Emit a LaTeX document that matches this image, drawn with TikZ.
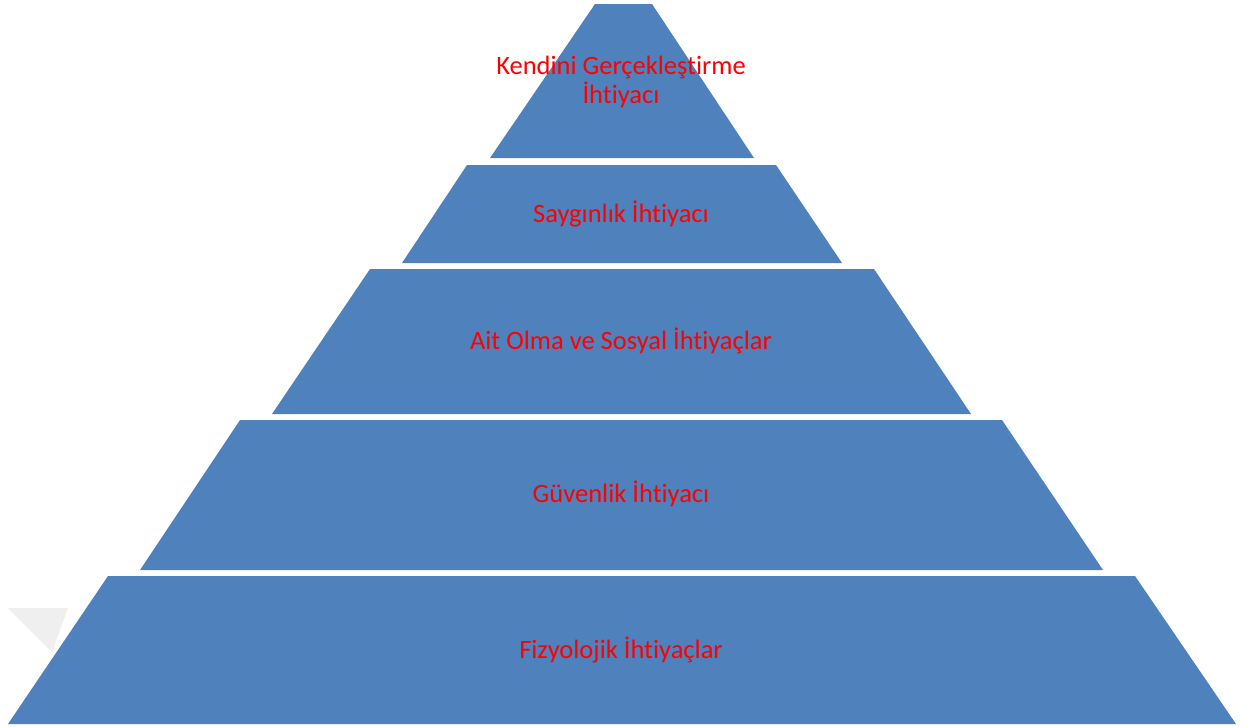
\documentclass[tikz,border=0pt]{standalone}
\usepackage{fontspec}
\setmainfont[Ligatures={NoCommon}]{Carlito}
\definecolor{pyrblue}{HTML}{4F81BD}
\definecolor{faintgrey}{HTML}{EFEFEF}
\begin{document}
\begin{tikzpicture}[x=1pt,y=-1pt,
  level/.style={fill=pyrblue,draw=none},
  lbl/.style={text=red,font=\fontsize{26.5}{29}\selectfont,align=center,inner sep=0pt}]
\useasboundingbox (0,0) rectangle (1250,728);
\fill[faintgrey] (8,608) -- (68,608) -- (52,652) -- cycle;
\path[level] (595,4) -- (652,4) -- (754,158) -- (490,158) -- cycle;
\path[level] (467,165) -- (776,165) -- (842,263) -- (402,263) -- cycle;
\path[level] (370,269) -- (874,269) -- (971,414) -- (272,414) -- cycle;
\path[level] (240,420) -- (1002,420) -- (1103,570) -- (140,570) -- cycle;
\path[level] (108,576) -- (1135,576) -- (1236,724) -- (8,724) -- cycle;
\node[lbl] (l1) at (621,82) {Kendini Gerçekleştirme\\İhtiyacı};
\node[lbl] (l2) at (621,214) {Saygınlık İhtiyacı};
\node[lbl] (l3) at (621,341) {Ait Olma ve Sosyal İhtiyaçlar};
\node[lbl] (l4) at (621,494) {Güvenlik İhtiyacı};
\node[lbl] (l5) at (621,650) {Fizyolojik İhtiyaçlar};
\end{tikzpicture}
\end{document}
